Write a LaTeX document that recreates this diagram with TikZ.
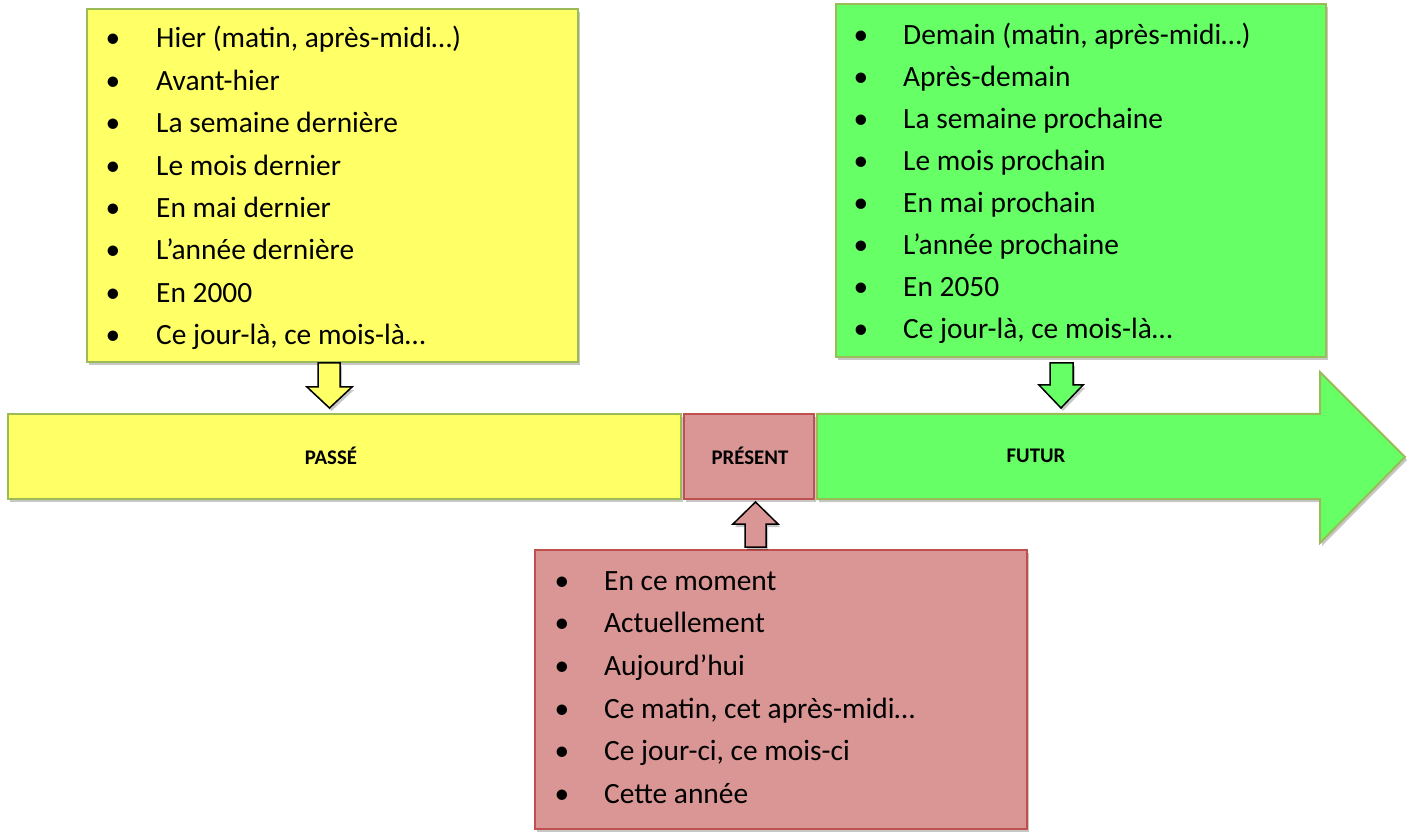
\documentclass[tikz,border=0pt]{standalone}
\usepackage{fontspec}
\setmainfont{Carlito}
\usetikzlibrary{shadows}
\definecolor{pastY}{HTML}{FFFF66}
\definecolor{futG}{HTML}{66FF66}
\definecolor{presR}{HTML}{D99694}
\definecolor{oliveB}{HTML}{9BBB59}
\definecolor{redB}{HTML}{C0504D}
\tikzset{
  shad/.style={drop shadow={shadow xshift=2pt,shadow yshift=-3pt,opacity=0.22,fill=black}},
  box/.style={rectangle,inner sep=0pt,outer sep=0pt,line width=1.5pt,shad},
  bar/.style={rectangle,inner sep=0pt,outer sep=0pt,line width=2pt,shad},
  blockarrow/.style={draw=black,line width=1.5pt,line join=miter,shad},
  itemtxt/.style={inner sep=0pt,anchor=base west,font=\fontsize{29.4}{35}\selectfont},
  bul/.style={inner sep=0pt,anchor=base,font=\fontsize{29.4}{35}\selectfont},
  lbl/.style={inner sep=0pt,font=\fontsize{20.8}{24}\selectfont\bfseries}
}
\begin{document}
\begin{tikzpicture}[x=1pt,y=1pt]
\useasboundingbox (0,0) rectangle (1413,831);
% top and bottom boxes
\node[box,fill=pastY,draw=oliveB,minimum width=491pt,minimum height=353pt] (pbox) at (332.5,645.5) {};
\node[box,fill=futG,draw=oliveB,minimum width=490pt,minimum height=353pt] (fbox) at (1081,650.5) {};
\node[box,fill=presR,draw=redB,minimum width=492pt,minimum height=279pt] (rbox) at (781,141.5) {};
% timeline
\node[bar,fill=pastY,draw=oliveB,minimum width=673pt,minimum height=85pt] (passe) at (344.5,374.5) {};
\node[bar,fill=presR,draw=redB,minimum width=130pt,minimum height=85pt] (present) at (749,374.5) {};
\path[fill=futG,draw=oliveB,line width=2pt,shad]
  (817,417) -- (1320,417) -- (1320,459) -- (1405,374) -- (1320,288) -- (1320,332) -- (817,332) -- cycle;
\node[lbl] (lpasse) at (331,375) {PASSÉ};
\node[lbl] (lpresent) at (750,375) {PRÉSENT};
\node[lbl] (lfutur) at (1036,375) {FUTUR};
% block arrows
\path[blockarrow,fill=pastY] (318,468) -- (340,468) -- (340,444) -- (352,444) -- (329.5,423) -- (307,444) -- (318,444) -- cycle;
\path[blockarrow,fill=futG] (1050,468) -- (1073,468) -- (1073,446) -- (1083,446) -- (1061,423) -- (1039,446) -- (1050,446) -- cycle;
\path[blockarrow,fill=presR] (745,284) -- (766,284) -- (766,307) -- (778,307) -- (755.5,329) -- (733,307) -- (745,307) -- cycle;
% lists
\foreach \t [count=\i from 0] in {{Hier (matin, après-midi…)},{Avant-hier},{La semaine dernière},{Le mois dernier},{En mai dernier},{L’année dernière},{En 2000},{Ce jour-là, ce mois-là…}}{
  \node[bul] (pb\i) at (113,783-42.4*\i) {•};
  \node[itemtxt] (pt\i) at (156,783-42.4*\i) {\t};
}
\foreach \t [count=\i from 0] in {{Demain (matin, après-midi…)},{Après-demain},{La semaine prochaine},{Le mois prochain},{En mai prochain},{L’année prochaine},{En 2050},{Ce jour-là, ce mois-là…}}{
  \node[bul] (fb\i) at (861,786-42*\i) {•};
  \node[itemtxt] (ft\i) at (903,786-42*\i) {\t};
}
\foreach \t [count=\i from 0] in {{En ce moment},{Actuellement},{Aujourd’hui},{Ce matin, cet après-midi…},{Ce jour-ci, ce mois-ci},{Cette année}}{
  \node[bul] (rb\i) at (562,241-42.7*\i) {•};
  \node[itemtxt] (rt\i) at (604,241-42.7*\i) {\t};
}
\end{tikzpicture}
\end{document}
